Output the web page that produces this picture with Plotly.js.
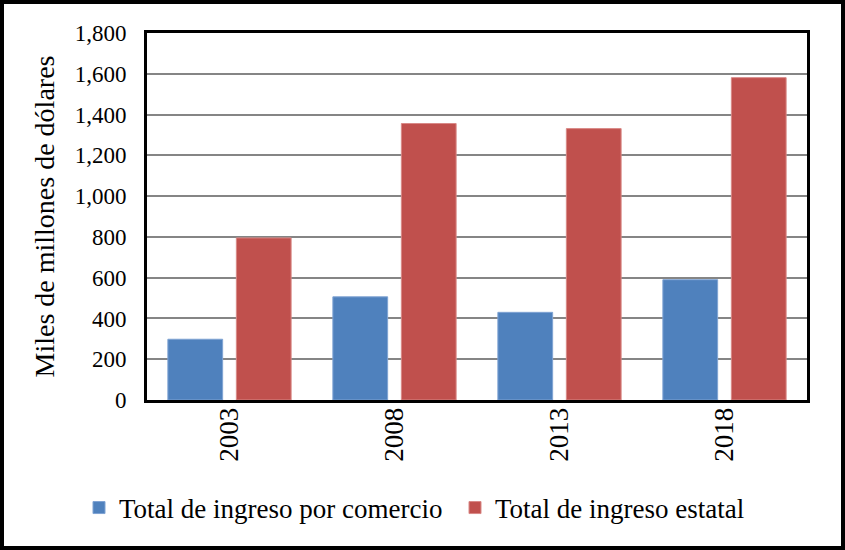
<!DOCTYPE html>
<html>
<head>
<meta charset="utf-8">
<script src="https://cdn.plot.ly/plotly-3.0.1.min.js"></script>
<style>
html,body{margin:0;padding:0;background:#fff;}
#chart{width:845px;height:550px;}
</style>
</head>
<body>
<div id="chart"></div>
<script>
const years = ['2003', '2008', '2013', '2018'];
const comercio = [298, 506, 430, 590];
const estatal = [795, 1356, 1331, 1581];
const seriesNames = ['Total de ingreso por comercio', 'Total de ingreso estatal'];
const yTickVals = [0, 200, 400, 600, 800, 1000, 1200, 1400, 1600, 1800];
const yTickText = ['0', '200', '400', '600', '800', '1,000', '1,200', '1,400', '1,600', '1,800'];

const FONT = '"Liberation Serif", "Times New Roman", serif';
const W = 845, H = 550, L = 147, R = 38, T = 33, B = 150;
const pw = W - L - R, ph = H - T - B;
const px = p => (p - L) / pw;
const py = p => (H - B - p) / ph;

const traces = [
  {type: 'bar', name: seriesNames[0], x: years, y: comercio, legend: 'legend',
   marker: {color: '#4F81BD', line: {color: '#7FA3D3', width: 1}}},
  {type: 'bar', name: seriesNames[1], x: years, y: estatal, legend: 'legend2',
   marker: {color: '#C0504D', line: {color: '#D98987', width: 1}}}
];

const legFont = {family: FONT, size: 27, color: '#000'};
const layout = {
  width: W, height: H,
  margin: {l: L, r: R, t: T, b: B},
  paper_bgcolor: '#fff', plot_bgcolor: '#fff',
  font: {family: FONT, size: 23, color: '#000'},
  barmode: 'group', bargap: 0.17, bargroupgap: 0.2,
  showlegend: true,
  legend: {orientation: 'h', x: px(79), xanchor: 'left', y: py(508), yanchor: 'middle',
           font: legFont, itemwidth: 30, bgcolor: 'rgba(0,0,0,0)'},
  legend2: {orientation: 'h', x: px(455), xanchor: 'left', y: py(508), yanchor: 'middle',
           font: legFont, itemwidth: 30, bgcolor: 'rgba(0,0,0,0)'},
  xaxis: {type: 'category', tickangle: -90, showline: true, linecolor: '#000', linewidth: 3, mirror: true,
          showgrid: false, ticks: '', ticklabelstandoff: -6, tickfont: {family: FONT, size: 27}, fixedrange: true},
  yaxis: {range: [0, 1800], tickvals: yTickVals, ticktext: yTickText, showline: true, linecolor: '#000',
          linewidth: 3, mirror: true, showgrid: true, gridcolor: '#858585', gridwidth: 2, zeroline: false,
          ticks: '', ticklabelstandoff: 13, tickfont: {family: FONT, size: 23},
          title: {text: 'Miles de millones de dólares', font: {family: FONT, size: 28}, standoff: 12},
          fixedrange: true},
  shapes: [
    {type: 'rect', xref: 'paper', yref: 'paper', x0: px(2), x1: px(843), y0: py(548), y1: py(2),
     line: {color: '#000', width: 4}, fillcolor: 'rgba(0,0,0,0)', layer: 'above'}
  ]
};

Plotly.newPlot('chart', traces, layout, {displayModeBar: false, staticPlot: true});
</script>
</body>
</html>
